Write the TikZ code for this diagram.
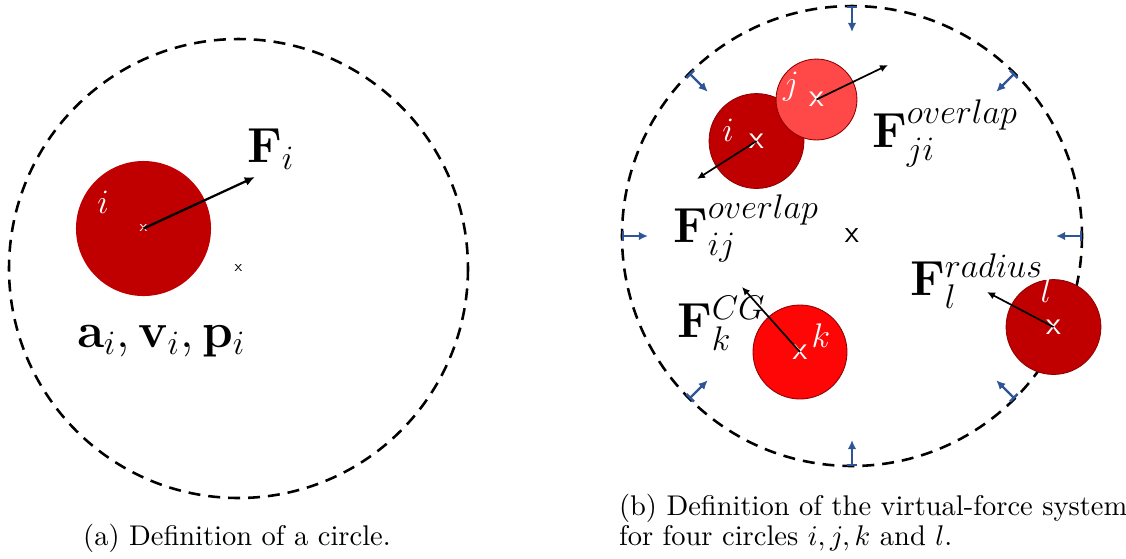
\documentclass[tikz,border=0pt]{standalone}
\usepackage{amsmath,amssymb}
\usetikzlibrary{arrows.meta}

\definecolor{darkred}{RGB}{192,0,0}
\definecolor{lightred}{RGB}{255,72,72}
\definecolor{brightred}{RGB}{255,6,6}
\definecolor{wallblue}{RGB}{47,85,151}

\begin{document}
\begin{tikzpicture}[x=0.351pt, y=-0.351pt, >=Latex,
    ball/.style={circle, inner sep=0pt, text=white,
                 font=\sffamily\fontsize{11.5}{11.5}\selectfont},
    fence/.style={line width=0.9pt, dash pattern=on 4.2pt off 2.8pt},
    force/.style={->, line width=0.6pt, >={Latex[length=2.8pt,width=2.6pt]}},
    wall/.style={{Bar[width=3.8pt]}-{Latex[length=3.2pt,width=3pt]},
                 line width=0.85pt, wallblue},
    flabel/.style={anchor=base west, font=\fontsize{17}{20}\selectfont},
    letter/.style={text=white, inner sep=0pt, font=\fontsize{12}{14}\selectfont}]
  \useasboundingbox (0,0) rectangle (1126,558);

  % (a) one circle
  \node (ctrA) [font=\sffamily\fontsize{5.5}{5.5}\selectfont] at (238.5,268.5) {x};
  \draw[fence] (ctrA.center) circle [radius=229.5];
  \node (ballA) [ball, fill=darkred, minimum size=47.4pt,
                 font=\sffamily\fontsize{5.5}{5.5}\selectfont] at (143.5,228.5) {x};
  \node (letA) [letter] at (103,202) {$i$};
  \coordinate (tipA) at (255,177);
  \draw[->, line width=0.8pt, >={Latex[length=3.6pt,width=3.2pt]}]
    (ballA.center) -- (tipA);
  \node (fA) [flabel] at (237,162) {$\mathbf{F}_i$};
  \node (state) [flabel] at (67,347) {$\mathbf{a}_i, \mathbf{v}_i, \mathbf{p}_i$};
  \node (capA) [anchor=base] at (237,545) {(a) Definition of a circle.};

  % (b) four circles
  \node (ctrB) [font=\sffamily\fontsize{11}{11}\selectfont] at (852,236) {x};
  \draw[fence] (ctrB.center) circle [radius=230];
  \foreach \a in {0,45,...,315} {
    \path (ctrB.center) ++(\a:230) coordinate (wo\a)
                        ++(\a+180:26) coordinate (wi\a);
    \draw[wall] (wo\a) -- (wi\a);
  }

  \node (bi) [ball, fill=darkred, draw=darkred!75!black, line width=0.3pt,
              minimum size=33.3pt] at (756.5,141) {x};
  \node (bj) [ball, fill=lightred, draw=darkred!75!black, line width=0.3pt,
              minimum size=28.4pt] at (816.5,99.5) {x};
  \node (bk) [ball, fill=brightred, draw=darkred!75!black, line width=0.3pt,
              minimum size=33pt] at (800,352) {x};
  \node (bl) [ball, fill=darkred, draw=darkred!75!black, line width=0.3pt,
              minimum size=33.3pt] at (1053.5,327) {x};

  \node (li) [letter] at (728,130) {$i$};
  \node (lj) [letter] at (791,87) {$j$};
  \node (lk) [letter] at (821,336) {$k$};
  \node (ll) [letter] at (1046,291) {$l$};

  \coordinate (ti) at (697,179);
  \coordinate (tj) at (888,65);
  \coordinate (tk) at (742,287);
  \coordinate (tl) at (987,292);
  \draw[force] (bi.center) -- (ti);
  \draw[force] (bj.center) -- (tj);
  \draw[force] (bk.center) -- (tk);
  \draw[force] (bl.center) -- (tl);

  \node (fji) [flabel] at (862,147) {$\mathbf{F}_{ji}^{overlap}$};
  \node (fij) [flabel] at (663,242) {$\mathbf{F}_{ij}^{overlap}$};
  \node (fk) [flabel] at (667,337) {$\mathbf{F}_{k}^{CG}$};
  \node (fl) [flabel] at (900,295) {$\mathbf{F}_{l}^{radius}$};

  \node (capB1) [anchor=base west] at (609,515)
    {(b) Definition of the virtual-force system};
  \node (capB2) [anchor=base west] at (609,545)
    {for four circles $i, j, k$ and $l$.};
\end{tikzpicture}
\end{document}
